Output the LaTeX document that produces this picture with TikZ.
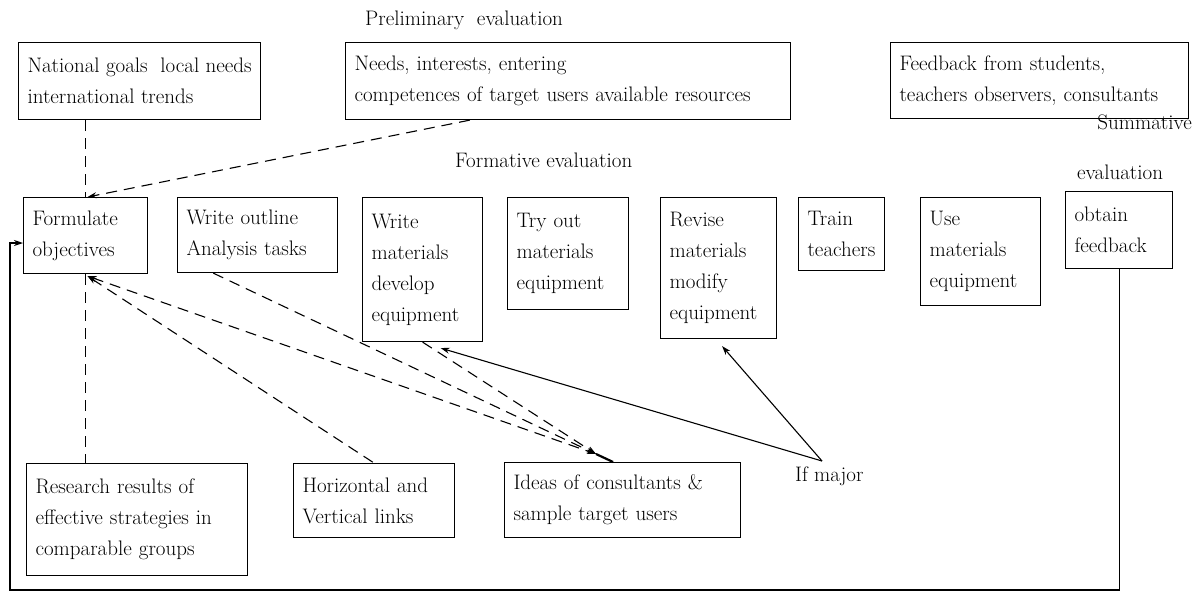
\documentclass[tikz,border=0pt]{standalone}
\usepackage{fontspec}
\usetikzlibrary{arrows.meta,calc}
\begin{document}
\begin{tikzpicture}[x=1pt,y=-1pt,
  box/.style={draw, line width=1.1pt, align=left, inner xsep=9pt, inner ysep=0pt,
    anchor=north west, font=\fontsize{21}{31}\selectfont},
  lbl/.style={anchor=west, inner sep=0pt, font=\fontsize{21}{25}\selectfont},
  dashline/.style={line width=1.1pt, dash pattern=on 11pt off 7pt},
  solidline/.style={line width=1.1pt},
  >={Stealth[length=9pt,width=6pt]}]
\useasboundingbox (0,0) rectangle (1194,595);

% headings
\node[lbl] (prelim) at (365,20) {Preliminary\ \ evaluation};
\node[lbl] (formative) at (455,160) {Formative evaluation};
\node[lbl, anchor=east] (summ) at (1192,122) {Summative};
\node[lbl, anchor=center] (summ2) at (1120,172) {evaluation};

% top row: inputs
\node[box, minimum height=77pt] (nat) at (18,42) {National goals\ \ local needs\\international trends};
\node[box, text width=427pt, minimum height=77pt] (needs) at (345,42) {Needs, interests, entering\\competences of target users available resources};
\node[box, text width=280pt, minimum height=76pt] (fb) at (890,42) {Feedback from students,\\teachers observers, consultants};

% middle row: development stages
\node[box, text width=106pt, minimum height=76pt] (form) at (23,197) {Formulate\\objectives};
\node[box, text width=142pt, minimum height=75pt] (outl) at (177,197) {Write outline\\Analysis tasks};
\node[box, text width=102pt, minimum height=144pt] (wmat) at (362,197) {Write\\materials\\develop\\equipment};
\node[box, text width=103pt, minimum height=112pt] (try) at (507,197) {Try out\\materials\\equipment};
\node[box, text width=98pt, minimum height=141pt] (rev) at (660,197) {Revise\\materials\\modify\\equipment};
\node[box, minimum height=73pt] (train) at (798,197) {Train\\teachers};
\node[box, text width=102pt, minimum height=108pt] (use) at (920,197) {Use\\materials\\equipment};
\node[box, text width=89pt, minimum height=77pt] (obt) at (1065,191) {obtain\\feedback};

% bottom row: sources
\node[box, text width=203pt, minimum height=112pt] (res) at (26,463) {Research results of\\effective strategies in\\comparable groups};
\node[box, text width=143pt, minimum height=74pt] (hor) at (293,463) {Horizontal and\\Vertical links};
\node[box, text width=218pt, minimum height=75pt] (ideas) at (504,462) {Ideas of consultants \&\\sample target users};

\node[lbl] (ifmaj) at (795,476) {If major};

% junction points
\coordinate (hub) at (596,454);
\coordinate (ifm) at (822,461);
\coordinate (formb) at ($(form.south)+(2,2)$);
\coordinate (needsb) at ($(needs.south west)!0.28!(needs.south east)$);
\coordinate (outlb) at ($(outl.south west)!0.225!(outl.south east)$);
\coordinate (wtip) at ($(wmat.south west)!0.65!(wmat.south east)+(0,6)$);
\coordinate (rtip) at ($(rev.south west)!0.53!(rev.south east)+(0,7)$);
\coordinate (lb) at (10,590);
\coordinate (lt) at (10,243);

% dashed influences
\draw[dashline] (form.north |- nat.south) -- (form.north);
\draw[dashline,->] (needsb) -- ($(form.north)+(2,0)$);
\draw[dashline] (form.south) -- (form.south |- res.north);
\draw[dashline,<-] (formb) -- (hor.north);
\draw[dashline,<->] (formb) -- (hub);
\draw[dashline,->] (outlb) -- (hub);
\draw[dashline,->] (wmat.south) -- (hub);
\draw[line width=2.2pt] (hub) -- ($(ideas.north west)!0.46!(ideas.north east)$);

% revision paths
\draw[solidline,->] (ifm) -- (wtip);
\draw[solidline,->] (ifm) -- (rtip);

% feedback loop
\draw[solidline,->] (obt.south) |- (lb) -- (lt) -- (lt -| form.west);
\end{tikzpicture}
\end{document}
